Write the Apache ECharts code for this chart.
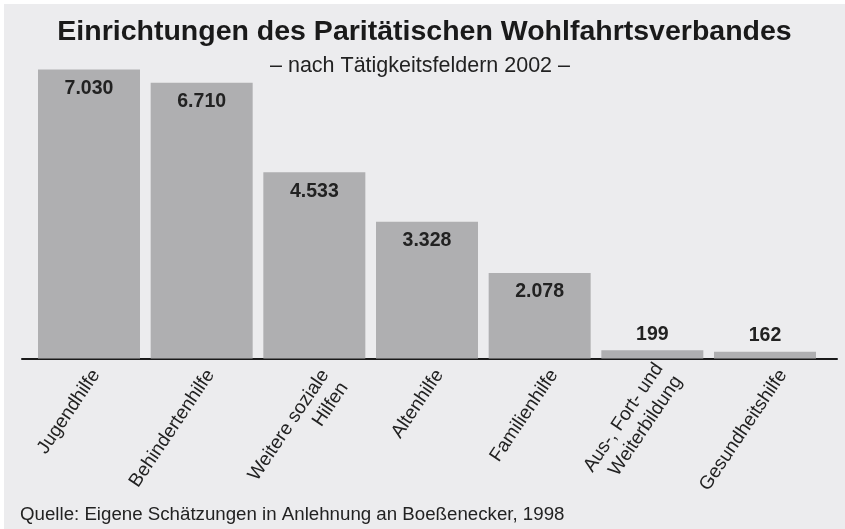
<!DOCTYPE html>
<html>
<head>
<meta charset="utf-8">
<script src="https://cdn.jsdelivr.net/npm/echarts@6/dist/echarts.min.js"></script>
<style>
  html, body { margin: 0; padding: 0; background: #ffffff; }
  #chart { position: absolute; left: 4px; top: 4px; width: 841px; height: 525px; background: #ececee; }
</style>
</head>
<body>
<div id="chart"></div>
<script>
const titleText = 'Einrichtungen des Paritätischen Wohlfahrtsverbandes';
const subtitleText = '– nach Tätigkeitsfeldern 2002 –';
const sourceText = 'Quelle: Eigene Schätzungen in Anlehnung an Boeßenecker, 1998';
const categories = ['Jugendhilfe', 'Behindertenhilfe', 'Weitere soziale\nHilfen', 'Altenhilfe', 'Familienhilfe', 'Aus-, Fort- und\nWeiterbildung', 'Gesundheitshilfe'];
const values = [7030, 6710, 4533, 3328, 2078, 199, 162];

const FONT = '"Liberation Sans", Arial, Helvetica, sans-serif';
function fmt(v) { return String(v).replace(/\B(?=(\d{3})+(?!\d))/g, '.'); }

const chart = echarts.init(document.getElementById('chart'), null, { renderer: 'canvas' });
const gridTop = 25.7, gridBottom = 170.5;

chart.setOption({
  backgroundColor: 'transparent',
  animation: false,
  textStyle: { fontFamily: FONT },
  title: [
    { text: titleText, left: 'center', top: 9,
      textStyle: { fontFamily: FONT, fontSize: 28.5, fontWeight: 'bold', color: '#1a1a1a' } },
    { text: subtitleText, left: 261, top: 46,
      textStyle: { fontFamily: FONT, fontSize: 21.5, fontWeight: 'normal', color: '#222222' } },
    { text: sourceText, left: 11, bottom: 0,
      textStyle: { fontFamily: FONT, fontSize: 18.7, fontWeight: 'normal', color: '#222222' } }
  ],
  grid: [
    { left: 28.67, right: 23.67, top: gridTop, bottom: gridBottom, containLabel: false },
    { left: 18, right: 8, top: gridTop, bottom: gridBottom, containLabel: false },
    { left: 34.75, right: 4.75, top: gridTop, bottom: gridBottom, containLabel: false }
  ],
  xAxis: [
    { type: 'category', gridIndex: 0, data: categories,
      axisLine: { show: false }, axisTick: { show: false }, axisLabel: { show: false } },
    { type: 'value', gridIndex: 1, min: 0, max: 1,
      axisLine: { show: true, onZero: false, lineStyle: { color: '#1a1a1a', width: 2 } },
      axisTick: { show: false }, axisLabel: { show: false }, splitLine: { show: false } },
    { type: 'category', gridIndex: 2, data: categories,
      axisLine: { show: false }, axisTick: { show: false },
      axisLabel: { rotate: 56, margin: 13, interval: 0, fontFamily: FONT, fontSize: 19, lineHeight: 23, color: '#222222',
        formatter: (v, i) => i === 2 ? '\n' + v : v } }
  ],
  yAxis: [
    { type: 'value', gridIndex: 0, min: 0, max: 8000, show: false, splitLine: { show: false } },
    { type: 'value', gridIndex: 1, min: 0, max: 1, show: false, splitLine: { show: false } },
    { type: 'value', gridIndex: 2, min: 0, max: 1, show: false, splitLine: { show: false } }
  ],
  series: [{
    type: 'bar', xAxisIndex: 0, yAxisIndex: 0, barWidth: 102, z: 1,
    itemStyle: { color: '#afafb1' },
    label: { show: true, position: 'insideTop', distance: 9, fontFamily: FONT, fontSize: 19.5, fontWeight: 'bold', color: '#222222',
      formatter: p => fmt(p.value) },
    data: values.map(v => v < 1000 ? { value: v, label: { position: 'top', distance: 6 } } : v)
  }]
});
</script>
</body>
</html>
